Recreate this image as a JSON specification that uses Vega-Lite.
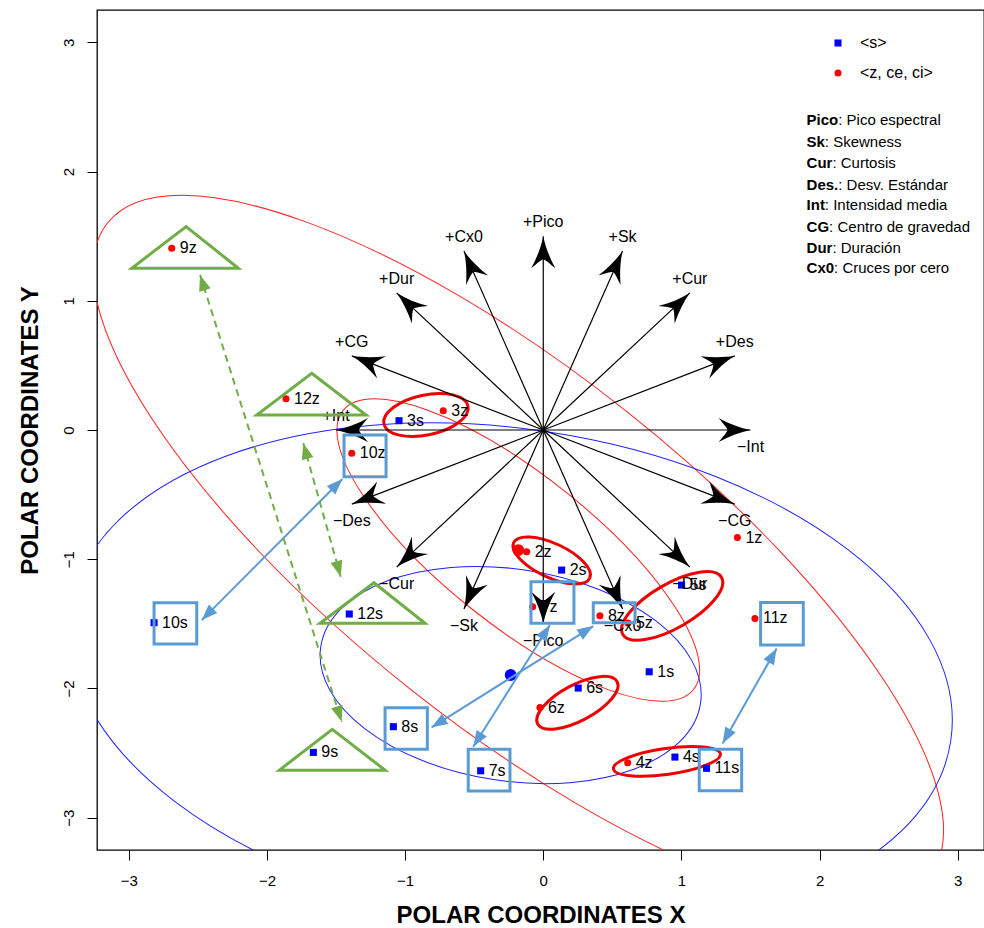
{
  "$schema": "https://vega.github.io/schema/vega-lite/v6.json",
  "width": 887,
  "height": 840,
  "autosize": {"type": "none"},
  "padding": {"left": 97, "top": 10, "right": 0, "bottom": 78},
  "background": "white",
  "config": {
    "view": {"stroke": "black", "strokeWidth": 1.3},
    "font": "Liberation Sans"
  },
  "datasets": {
    "pts": [
      {"id": "1s", "g": "s", "x": 0.767, "y": -1.871},
      {"id": "2s", "g": "s", "x": 0.133, "y": -1.084},
      {"id": "3s", "g": "s", "x": -1.044, "y": 0.072},
      {"id": "4s", "g": "s", "x": 0.953, "y": -2.531},
      {"id": "5s", "g": "s", "x": 1.001, "y": -1.2},
      {"id": "6s", "g": "s", "x": 0.253, "y": -1.997},
      {"id": "7s", "g": "s", "x": -0.453, "y": -2.637},
      {"id": "8s", "g": "s", "x": -1.085, "y": -2.296},
      {"id": "9s", "g": "s", "x": -1.664, "y": -2.495},
      {"id": "10s", "g": "s", "x": -2.817, "y": -1.491},
      {"id": "11s", "g": "s", "x": 1.182, "y": -2.618},
      {"id": "12s", "g": "s", "x": -1.404, "y": -1.424},
      {"id": "1z", "g": "z", "x": 1.405, "y": -0.832},
      {"id": "2z", "g": "z", "x": -0.12, "y": -0.942},
      {"id": "3z", "g": "z", "x": -0.724, "y": 0.149},
      {"id": "4z", "g": "z", "x": 0.611, "y": -2.575},
      {"id": "5z", "g": "z", "x": 0.613, "y": -1.494},
      {"id": "6z", "g": "z", "x": -0.024, "y": -2.148},
      {"id": "7z", "g": "z", "x": -0.077, "y": -1.368},
      {"id": "8z", "g": "z", "x": 0.41, "y": -1.437},
      {"id": "9z", "g": "z", "x": -2.689, "y": 1.406},
      {"id": "10z", "g": "z", "x": -1.386, "y": -0.18},
      {"id": "11z", "g": "z", "x": 1.532, "y": -1.458},
      {"id": "12z", "g": "z", "x": -1.862, "y": 0.242}
    ],
    "cent": [
      {"g": "s", "x": -0.236, "y": -1.896},
      {"g": "z", "x": -0.181, "y": -0.929}
    ],
    "vars": [
      {"v": "+Pico", "x0": 0, "y0": 0, "x": 0, "y": 1.5, "ang": 0},
      {"v": "+Sk", "x0": 0, "y0": 0, "x": 0.574, "y": 1.386, "ang": 23.9},
      {"v": "+Cur", "x0": 0, "y0": 0, "x": 1.061, "y": 1.061, "ang": 46.9},
      {"v": "+Des", "x0": 0, "y0": 0, "x": 1.386, "y": 0.574, "ang": 68.8},
      {"v": "−Int", "x0": 0, "y0": 0, "x": 1.5, "y": 0, "ang": 90},
      {"v": "−CG", "x0": 0, "y0": 0, "x": 1.386, "y": -0.574, "ang": 111.2},
      {"v": "−Dur", "x0": 0, "y0": 0, "x": 1.061, "y": -1.061, "ang": 133.1},
      {"v": "−Cx0", "x0": 0, "y0": 0, "x": 0.574, "y": -1.386, "ang": 156.1},
      {"v": "−Pico", "x0": 0, "y0": 0, "x": 0, "y": -1.5, "ang": 180},
      {"v": "−Sk", "x0": 0, "y0": 0, "x": -0.574, "y": -1.386, "ang": 203.9},
      {"v": "−Cur", "x0": 0, "y0": 0, "x": -1.061, "y": -1.061, "ang": 226.9},
      {"v": "−Des", "x0": 0, "y0": 0, "x": -1.386, "y": -0.574, "ang": 248.8},
      {"v": "+Int", "x0": 0, "y0": 0, "x": -1.5, "y": 0, "ang": 270},
      {"v": "+CG", "x0": 0, "y0": 0, "x": -1.386, "y": 0.574, "ang": 291.2},
      {"v": "+Dur", "x0": 0, "y0": 0, "x": -1.061, "y": 1.061, "ang": 313.1},
      {"v": "+Cx0", "x0": 0, "y0": 0, "x": -0.574, "y": 1.386, "ang": 336.1}
    ],
    "links": [
      {"c": "b", "x": -1.454, "y": -0.379, "x2": -2.472, "y2": -1.471},
      {"c": "b", "x": -0.808, "y": -2.301, "x2": 0.362, "y2": -1.517},
      {"c": "b", "x": -0.507, "y": -2.451, "x2": 0.048, "y2": -1.509},
      {"c": "b", "x": 1.689, "y": -1.69, "x2": 1.298, "y2": -2.425},
      {"c": "g", "x": -2.484, "y": 1.2, "x2": -1.459, "y2": -2.258},
      {"c": "g", "x": -1.737, "y": -0.103, "x2": -1.466, "y2": -1.135}
    ],
    "heads": [
      {"c": "b", "x": -1.454, "y": -0.379, "ang": 44.9},
      {"c": "b", "x": -2.472, "y": -1.471, "ang": 224.9},
      {"c": "b", "x": 0.362, "y": -1.517, "ang": 57.9},
      {"c": "b", "x": -0.808, "y": -2.301, "ang": 237.9},
      {"c": "b", "x": 0.048, "y": -1.509, "ang": 32.2},
      {"c": "b", "x": -0.507, "y": -2.451, "ang": 212.2},
      {"c": "b", "x": 1.689, "y": -1.69, "ang": 29.6},
      {"c": "b", "x": 1.298, "y": -2.425, "ang": 209.6},
      {"c": "g", "x": -2.484, "y": 1.2, "ang": 342.4},
      {"c": "g", "x": -1.459, "y": -2.258, "ang": 162.4},
      {"c": "g", "x": -1.737, "y": -0.103, "ang": 344.3},
      {"c": "g", "x": -1.466, "y": -1.135, "ang": 164.3}
    ],
    "boxes": [
      {"b": "10s", "x": -2.817, "x2": -2.508, "y": -1.337, "y2": -1.656},
      {"b": "10z", "x": -1.442, "x2": -1.138, "y": -0.039, "y2": -0.361},
      {"b": "8s", "x": -1.145, "x2": -0.839, "y": -2.149, "y2": -2.471},
      {"b": "7s", "x": -0.543, "x2": -0.241, "y": -2.471, "y2": -2.794},
      {"b": "7z", "x": -0.089, "x2": 0.222, "y": -1.174, "y2": -1.496},
      {"b": "8z", "x": 0.362, "x2": 0.664, "y": -1.337, "y2": -1.491},
      {"b": "11z", "x": 1.573, "x2": 1.882, "y": -1.334, "y2": -1.664},
      {"b": "11s", "x": 1.129, "x2": 1.436, "y": -2.471, "y2": -2.792}
    ],
    "tris": [
      {"t": "9z", "i": 1, "x": -2.585, "y": 1.574},
      {"t": "9z", "i": 2, "x": -2.207, "y": 1.252},
      {"t": "9z", "i": 3, "x": -2.978, "y": 1.252},
      {"t": "12z", "i": 1, "x": -1.676, "y": 0.439},
      {"t": "12z", "i": 2, "x": -1.283, "y": 0.116},
      {"t": "12z", "i": 3, "x": -2.074, "y": 0.116},
      {"t": "12s", "i": 1, "x": -1.225, "y": -1.182},
      {"t": "12s", "i": 2, "x": -0.856, "y": -1.496},
      {"t": "12s", "i": 3, "x": -1.616, "y": -1.496},
      {"t": "9s", "i": 1, "x": -1.527, "y": -2.317},
      {"t": "9s", "i": 2, "x": -1.145, "y": -2.632},
      {"t": "9s", "i": 3, "x": -1.91, "y": -2.632}
    ],
    "gloss": [
      {"k": "Pico", "d": ": Pico espectral", "x": 1.906, "xd": 2.135, "y": 2.399},
      {"k": "Sk", "d": ": Skewness", "x": 1.906, "xd": 2.038, "y": 2.231},
      {"k": "Cur", "d": ": Curtosis", "x": 1.906, "xd": 2.093, "y": 2.064},
      {"k": "Des.", "d": ": Desv. Estándar", "x": 1.906, "xd": 2.135, "y": 1.896},
      {"k": "Int", "d": ": Intensidad media", "x": 1.906, "xd": 2.038, "y": 1.741},
      {"k": "CG", "d": ": Centro de gravedad", "x": 1.906, "xd": 2.069, "y": 1.574},
      {"k": "Dur", "d": ": Duración", "x": 1.906, "xd": 2.093, "y": 1.406},
      {"k": "Cx0", "d": ": Cruces por cero", "x": 1.906, "xd": 2.105, "y": 1.252}
    ]
  },
  "layer": [
    {
      "data": {"values": [{"x": -0.181, "y": -0.929}]},
      "mark": {"type": "point", "shape": "M525,0C525,97 290,176 0,176C-290,176 -525,97 -525,0C-525,-97 -290,-176 0,-176C290,-176 525,-97 525,0Z", "size": 4, "angle": 38.5, "filled": false, "color": "#ff2020", "strokeWidth": 1, "opacity": 1, "clip": true},
      "encoding": {
        "x": {"field": "x", "type": "quantitative", "scale": {"domain": [-3.23, 3.19], "nice": false, "zero": false},
          "axis": {"values": [-3, -2, -1, 0, 1, 2, 3], "format": "d", "title": "POLAR COORDINATES X", "grid": false, "domain": false, "ticks": true, "labels": true, "tickSize": 10, "tickColor": "black", "labelFontSize": 15, "labelColor": "black", "labelPadding": 13, "labelFlush": false, "labelOverlap": false, "titleFontSize": 24, "titleFontWeight": "bold", "titleColor": "black", "titleY": 65, "titleBaseline": "middle"}},
        "y": {"field": "y", "type": "quantitative", "scale": {"domain": [-3.25, 3.25], "nice": false, "zero": false},
          "axis": {"values": [-3, -2, -1, 0, 1, 2, 3], "format": "d", "title": "POLAR COORDINATES Y", "grid": false, "domain": false, "ticks": true, "labels": true, "tickSize": 10, "tickColor": "black", "labelFontSize": 15, "labelColor": "black", "labelAngle": -90, "labelAlign": "center", "labelBaseline": "bottom", "labelPadding": 11, "labelFlush": false, "labelOverlap": false, "titleFontSize": 24, "titleFontWeight": "bold", "titleColor": "black", "titleX": -67, "titleBaseline": "middle"}}
      }
    },
    {
      "data": {"values": [{"x": -0.181, "y": -0.929}]},
      "mark": {"type": "point", "shape": "M224,0C224,41 124,75 0,75C-124,75 -224,41 -224,0C-224,-41 -124,-75 0,-75C124,-75 224,-41 224,0Z", "size": 4, "angle": 38.5, "filled": false, "color": "#ff2020", "strokeWidth": 1, "opacity": 1, "clip": true},
      "encoding": {"x": {"field": "x", "type": "quantitative"}, "y": {"field": "y", "type": "quantitative"}}
    },
    {
      "data": {"values": [{"x": -0.236, "y": -1.896}]},
      "mark": {"type": "point", "shape": "M445,0C445,136 246,246 0,246C-246,246 -445,136 -445,0C-445,-136 -246,-246 0,-246C246,-246 445,-136 445,0Z", "size": 4, "angle": 8.5, "filled": false, "color": "#2020ff", "strokeWidth": 1, "opacity": 1, "clip": true},
      "encoding": {"x": {"field": "x", "type": "quantitative"}, "y": {"field": "y", "type": "quantitative"}}
    },
    {
      "data": {"values": [{"x": -0.236, "y": -1.896}]},
      "mark": {"type": "point", "shape": "M192,0C192,58.5 106,106 0,106C-106,106 -192,58.5 -192,0C-192,-58.5 -106,-106 0,-106C106,-106 192,-58.5 192,0Z", "size": 4, "angle": 8.5, "filled": false, "color": "#2020ff", "strokeWidth": 1, "opacity": 1, "clip": true},
      "encoding": {"x": {"field": "x", "type": "quantitative"}, "y": {"field": "y", "type": "quantitative"}}
    },
    {
      "data": {"values": [{"x": -0.849, "y": 0.116}]},
      "mark": {"type": "point", "shape": "M43,0C43,11 23.7,20 0,20C-23.7,20 -43,11 -43,0C-43,-11 -23.7,-20 0,-20C23.7,-20 43,-11 43,0Z", "size": 4, "angle": 348, "filled": false, "color": "#ee0000", "strokeWidth": 3, "opacity": 1},
      "encoding": {"x": {"field": "x", "type": "quantitative"}, "y": {"field": "y", "type": "quantitative"}}
    },
    {
      "data": {"values": [{"x": 0.061, "y": -1.009}]},
      "mark": {"type": "point", "shape": "M42,0C42,9.4 23.2,17 0,17C-23.2,17 -42,9.4 -42,0C-42,-9.4 -23.2,-17 0,-17C23.2,-17 42,-9.4 42,0Z", "size": 4, "angle": 25, "filled": false, "color": "#ee0000", "strokeWidth": 3, "opacity": 1},
      "encoding": {"x": {"field": "x", "type": "quantitative"}, "y": {"field": "y", "type": "quantitative"}}
    },
    {
      "data": {"values": [{"x": 0.933, "y": -1.361}]},
      "mark": {"type": "point", "shape": "M57,0C57,12.2 31.5,22 0,22C-31.5,22 -57,12.2 -57,0C-57,-12.2 -31.5,-22 0,-22C31.5,-22 57,-12.2 57,0Z", "size": 4, "angle": 330, "filled": false, "color": "#ee0000", "strokeWidth": 3, "opacity": 1},
      "encoding": {"x": {"field": "x", "type": "quantitative"}, "y": {"field": "y", "type": "quantitative"}}
    },
    {
      "data": {"values": [{"x": 0.247, "y": -2.111}]},
      "mark": {"type": "point", "shape": "M45,0C45,9.9 24.9,18 0,18C-24.9,18 -45,9.9 -45,0C-45,-9.9 -24.9,-18 0,-18C24.9,-18 45,-9.9 45,0Z", "size": 4, "angle": 332, "filled": false, "color": "#ee0000", "strokeWidth": 3, "opacity": 1},
      "encoding": {"x": {"field": "x", "type": "quantitative"}, "y": {"field": "y", "type": "quantitative"}}
    },
    {
      "data": {"values": [{"x": 0.895, "y": -2.564}]},
      "mark": {"type": "point", "shape": "M54,0C54,7.2 29.8,13 0,13C-29.8,13 -54,7.2 -54,0C-54,-7.2 -29.8,-13 0,-13C29.8,-13 54,-7.2 54,0Z", "size": 4, "angle": 352, "filled": false, "color": "#ee0000", "strokeWidth": 3, "opacity": 1},
      "encoding": {"x": {"field": "x", "type": "quantitative"}, "y": {"field": "y", "type": "quantitative"}}
    },
    {
      "data": {"name": "pts"},
      "mark": {"type": "point", "filled": true, "size": 50, "opacity": 1, "strokeWidth": 0},
      "encoding": {
        "x": {"field": "x", "type": "quantitative"},
        "y": {"field": "y", "type": "quantitative"},
        "color": {"field": "g", "type": "nominal", "scale": {"domain": ["s", "z"], "range": ["#0000ff", "#ff0000"]},
          "legend": {"orient": "none", "legendX": 733, "legendY": 25, "title": null, "labelExpr": "datum.label == 's' ? '<s>' : '<z, ce, ci>'", "labelFontSize": 16, "labelColor": "black", "symbolSize": 50, "rowPadding": 14, "labelOffset": 14, "padding": 0, "symbolStrokeWidth": 0}},
        "shape": {"field": "g", "type": "nominal", "scale": {"domain": ["s", "z"], "range": ["square", "circle"]}}
      }
    },
    {
      "data": {"name": "pts"},
      "mark": {"type": "text", "align": "left", "baseline": "middle", "dx": 8, "fontSize": 16, "color": "black"},
      "encoding": {
        "x": {"field": "x", "type": "quantitative"},
        "y": {"field": "y", "type": "quantitative"},
        "text": {"field": "id", "type": "nominal"}
      }
    },
    {
      "data": {"name": "cent"},
      "mark": {"type": "point", "filled": true, "size": 140, "opacity": 1, "shape": "circle", "strokeWidth": 0},
      "encoding": {
        "x": {"field": "x", "type": "quantitative"},
        "y": {"field": "y", "type": "quantitative"},
        "color": {"field": "g", "type": "nominal", "legend": null}
      }
    },
    {
      "data": {"name": "vars"},
      "mark": {"type": "rule", "color": "black", "strokeWidth": 1.2},
      "encoding": {
        "x": {"field": "x0", "type": "quantitative"},
        "y": {"field": "y0", "type": "quantitative"},
        "x2": {"field": "x"},
        "y2": {"field": "y"}
      }
    },
    {
      "data": {"name": "vars"},
      "mark": {"type": "point", "shape": "M0,0C2,10 6,21 12,32C6,27 3,24 0,23C-3,24 -6,27 -12,32C-6,21 -2,10 0,0Z", "size": 4, "filled": true, "color": "black", "opacity": 1, "strokeWidth": 0},
      "encoding": {
        "x": {"field": "x", "type": "quantitative"},
        "y": {"field": "y", "type": "quantitative"},
        "angle": {"field": "ang", "type": "quantitative", "scale": {"domain": [0, 360], "range": [0, 360]}, "legend": null}
      }
    },
    {
      "data": {"name": "vars"},
      "transform": [{"filter": "datum.y > 0.01 || datum.x < -1.4"}],
      "mark": {"type": "text", "align": "center", "baseline": "middle", "dy": -14, "fontSize": 16, "color": "black"},
      "encoding": {
        "x": {"field": "x", "type": "quantitative"},
        "y": {"field": "y", "type": "quantitative"},
        "text": {"field": "v", "type": "nominal"}
      }
    },
    {
      "data": {"name": "vars"},
      "transform": [{"filter": "datum.y < -0.01 || datum.x > 1.4"}],
      "mark": {"type": "text", "align": "center", "baseline": "middle", "dy": 17, "fontSize": 16, "color": "black"},
      "encoding": {
        "x": {"field": "x", "type": "quantitative"},
        "y": {"field": "y", "type": "quantitative"},
        "text": {"field": "v", "type": "nominal"}
      }
    },
    {
      "data": {"name": "boxes"},
      "mark": {"type": "rect", "fillOpacity": 0, "stroke": "#5b9bd5", "strokeWidth": 3},
      "encoding": {
        "x": {"field": "x", "type": "quantitative"},
        "x2": {"field": "x2"},
        "y": {"field": "y", "type": "quantitative"},
        "y2": {"field": "y2"}
      }
    },
    {
      "data": {"name": "tris"},
      "mark": {"type": "line", "interpolate": "linear-closed", "color": "#70ad47", "strokeWidth": 3, "strokeJoin": "miter"},
      "encoding": {
        "x": {"field": "x", "type": "quantitative"},
        "y": {"field": "y", "type": "quantitative"},
        "detail": {"field": "t", "type": "nominal"},
        "order": {"field": "i", "type": "quantitative"}
      }
    },
    {
      "data": {"name": "links"},
      "transform": [{"filter": "datum.c == 'b'"}],
      "mark": {"type": "rule", "color": "#5b9bd5", "strokeWidth": 2},
      "encoding": {
        "x": {"field": "x", "type": "quantitative"},
        "y": {"field": "y", "type": "quantitative"},
        "x2": {"field": "x2"},
        "y2": {"field": "y2"}
      }
    },
    {
      "data": {"name": "links"},
      "transform": [{"filter": "datum.c == 'g'"}],
      "mark": {"type": "rule", "color": "#70ad47", "strokeWidth": 2, "strokeDash": [7, 5]},
      "encoding": {
        "x": {"field": "x", "type": "quantitative"},
        "y": {"field": "y", "type": "quantitative"},
        "x2": {"field": "x2"},
        "y2": {"field": "y2"}
      }
    },
    {
      "data": {"name": "heads"},
      "transform": [{"filter": "datum.c == 'b'"}],
      "mark": {"type": "point", "shape": "M0,0L6,16L-6,16Z", "size": 4, "filled": true, "color": "#5b9bd5", "opacity": 1, "strokeWidth": 0},
      "encoding": {
        "x": {"field": "x", "type": "quantitative"},
        "y": {"field": "y", "type": "quantitative"},
        "angle": {"field": "ang", "type": "quantitative", "scale": {"domain": [0, 360], "range": [0, 360]}, "legend": null}
      }
    },
    {
      "data": {"name": "heads"},
      "transform": [{"filter": "datum.c == 'g'"}],
      "mark": {"type": "point", "shape": "M0,0L6,16L-6,16Z", "size": 4, "filled": true, "color": "#70ad47", "opacity": 1, "strokeWidth": 0},
      "encoding": {
        "x": {"field": "x", "type": "quantitative"},
        "y": {"field": "y", "type": "quantitative"},
        "angle": {"field": "ang", "type": "quantitative", "scale": {"domain": [0, 360], "range": [0, 360]}, "legend": null}
      }
    },
    {
      "data": {"name": "gloss"},
      "mark": {"type": "text", "align": "left", "baseline": "middle", "fontSize": 15, "fontWeight": "bold", "color": "black"},
      "encoding": {
        "x": {"field": "x", "type": "quantitative"},
        "y": {"field": "y", "type": "quantitative"},
        "text": {"field": "k", "type": "nominal"}
      }
    },
    {
      "data": {"name": "gloss"},
      "mark": {"type": "text", "align": "left", "baseline": "middle", "fontSize": 15, "color": "black"},
      "encoding": {
        "x": {"field": "xd", "type": "quantitative"},
        "y": {"field": "y", "type": "quantitative"},
        "text": {"field": "d", "type": "nominal"}
      }
    }
  ]
}
